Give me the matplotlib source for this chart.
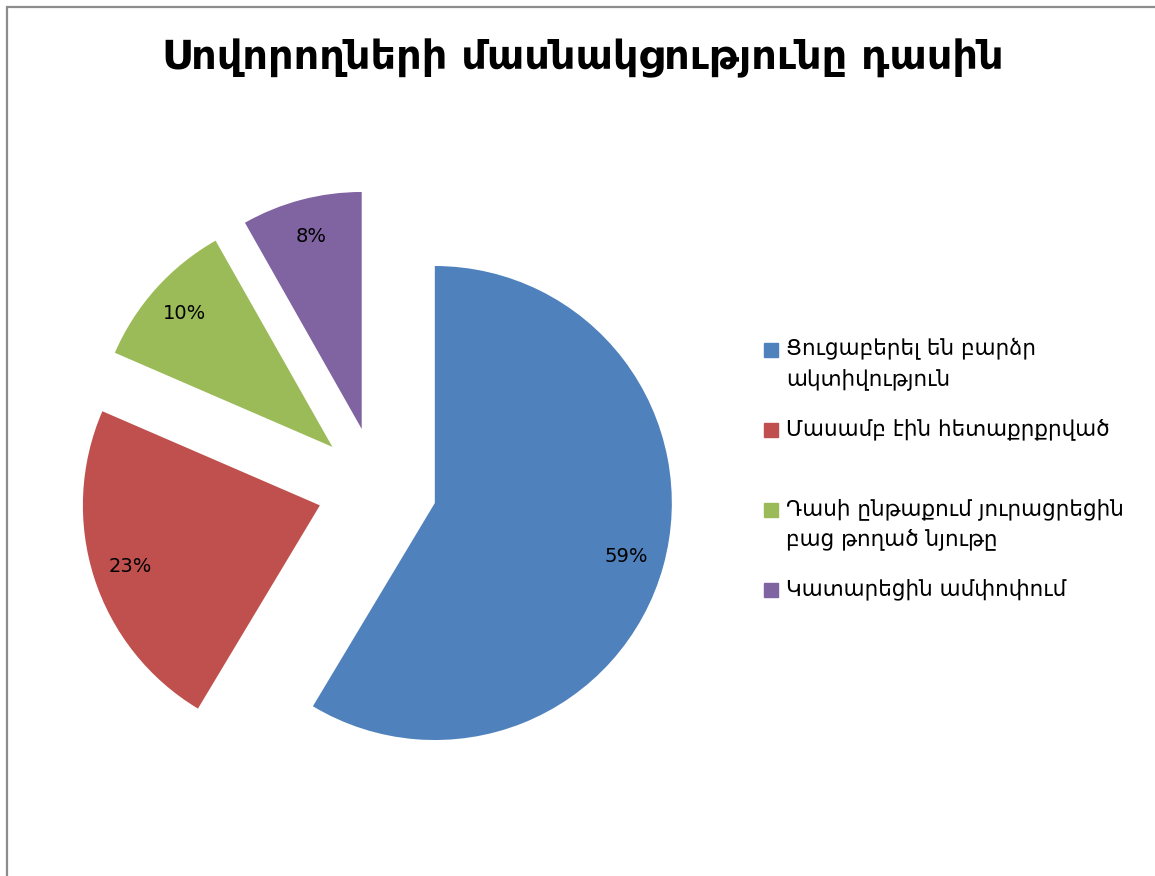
import matplotlib
matplotlib.use('Agg')
import matplotlib.pyplot as plt
from matplotlib.patches import Rectangle

# տվյալներ
title = "Սովորողների մասնակցությունը դասին"
labels = [
    "Ցուցաբերել են բարձր\nակտիվություն",
    "Մասամբ էին հետաքրքրված",
    "Դասի ընթաքում յուրացրեցին\nբաց թողած նյութը",
    "Կատարեցին ամփոփում",
]
values = [58.6, 22.9, 10.3, 8.2]
colors = ["#4F81BD", "#C0504D", "#9BBB59", "#8064A2"]

W, H = 1155, 876
plt.rcParams['font.family'] = ['DejaVu Sans']

fig = plt.figure(figsize=(W / 100, H / 100), dpi=100)
# axes in pixel units, y pointing up
ax = fig.add_axes([0, 0, 1, 1])

# explode is in data units (pixels here)
explode = [60] * len(values)
wedges, texts, autotexts = ax.pie(
    values, colors=colors, explode=explode, startangle=90, counterclock=False,
    center=(377, H - 487), radius=237, autopct='%1.0f%%', pctdistance=0.84,
    wedgeprops=dict(linewidth=0), textprops=dict(fontsize=14, color='black'),
    frame=True)
ax.set_xlim(0, W)
ax.set_ylim(0, H)
ax.set_aspect('auto')
ax.axis('off')

ax.text(583, H - 58, title, ha='center', va='center', fontsize=28.7, fontweight='bold')

# legend
for i, (lab, col) in enumerate(zip(labels, colors)):
    y = H - (350 + i * 80)
    ax.add_patch(Rectangle((764, y - 7), 14, 14, color=col))
    ax.text(786, y + 12, lab, ha='left', va='top', fontsize=15.5, linespacing=1.5)

# chart border
ax.add_patch(Rectangle((6.5, -20), 2000, H - 6.5 + 20, fill=False,
                       edgecolor='#8c8c8c', linewidth=1.6, clip_on=False))

fig.savefig('out.png', dpi=100)
